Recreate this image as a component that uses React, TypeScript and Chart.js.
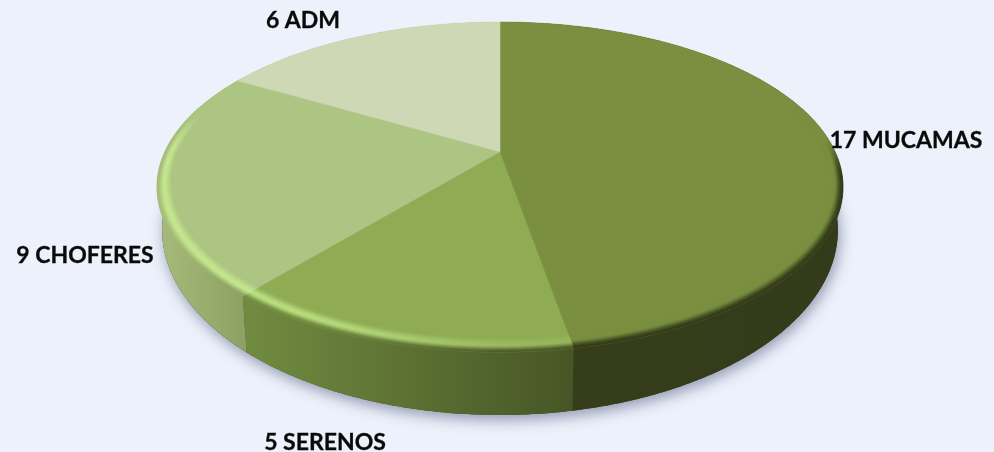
import React, { useEffect, useRef } from "react";
import { Chart, registerables } from "chart.js";

Chart.register(...registerables);

const categories = ["17 MUCAMAS", "5 SERENOS", "9 CHOFERES", "6 ADM"];
const sliceValues = [17, 5, 8, 6];
const faceColors = ["#7a8f40", "#8fac54", "#adc582", "#ced8b5"];
const labelAnchors: [number, number, string][] = [
  [906, 141, "center"],
  [325, 443, "center"],
  [85, 256, "center"],
  [303, 21, "center"],
];

const CX = 500, CY = 152, RX = 335.2, RY = 157.6, K = 0.212;
const BOTTOM_X = 0.985, BOTTOM_Y = 1.121, BOTTOM_SHIFT = 38.8;

function proj(a: number, s = 1, bottom = false): [number, number] {
  const v = Math.cos(a) * s, u = Math.sin(a) * s;
  const d = 1 - K * u;
  let x = (RX * v) / d, y = (RY * u) / d;
  if (bottom) { x *= BOTTOM_X; y = y * BOTTOM_Y + BOTTOM_SHIFT; }
  return [CX + x, CY + y];
}
const hex = (h: string) => [1, 3, 5].map((i) => parseInt(h.slice(i, i + 2), 16));
const mix = (a: number[], b: number[], t: number) => a.map((c, i) => c + (b[i] - c) * t);
const css = (c: number[]) => `rgb(${c.map(Math.round).join(",")})`;
const smooth = (a: number, b: number, x: number) => {
  const t = Math.min(1, Math.max(0, (x - a) / (b - a)));
  return t * t * (3 - 2 * t);
};
const wallStops: [number, number, string, string][] = [
  [570, 840, "#353d1b", "#333b1a"],
  [250, 570, "#708b40", "#475626"],
  [160, 250, "#a6bb7a", "#8b9f62"],
  [240, 500, "#9fb070", "#9fb070"],
];

const pie3d = {
  id: "pie3d",
  beforeDatasetsDraw(chart: any) {
    const ctx: CanvasRenderingContext2D = chart.ctx;
    const arcs = chart.getDatasetMeta(0).data;
    const step = Math.PI / 360;
    const path = (a0: number, a1: number, s: number, bottom: boolean, move: boolean) => {
      const n = Math.max(1, Math.ceil(Math.abs(a1 - a0) / step));
      for (let i = 0; i <= n; i++) {
        const p = proj(a0 + ((a1 - a0) * i) / n, s, bottom);
        if (i === 0 && move) ctx.moveTo(p[0], p[1]); else ctx.lineTo(p[0], p[1]);
      }
    };
    ctx.save();
    // soft cast shadow
    ctx.save();
    ctx.shadowColor = "rgba(60,70,105,0.5)";
    ctx.shadowBlur = 14;
    ctx.shadowOffsetX = 2;
    ctx.shadowOffsetY = 5;
    ctx.fillStyle = "#333b1a";
    ctx.beginPath();
    path(-Math.PI, Math.PI, 1, true, true);
    ctx.closePath();
    ctx.fill();
    ctx.restore();
    // walls
    arcs.forEach((arc: any, i: number) => {
      const [x0, x1, c0, c1] = wallStops[i];
      const g = ctx.createLinearGradient(x0, 0, x1, 0);
      g.addColorStop(0, c0);
      g.addColorStop(1, c1);
      ctx.fillStyle = g;
      ctx.beginPath();
      path(arc.startAngle, arc.endAngle, 1, false, true);
      path(arc.endAngle, arc.startAngle, 1, true, false);
      ctx.closePath();
      ctx.fill();
    });
    // faces
    arcs.forEach((arc: any) => {
      ctx.fillStyle = arc.options.backgroundColor;
      ctx.strokeStyle = arc.options.backgroundColor;
      ctx.lineWidth = 0.5;
      ctx.beginPath();
      ctx.moveTo(CX, CY);
      path(arc.startAngle, arc.endAngle, 1, false, false);
      ctx.closePath();
      ctx.fill();
      ctx.stroke();
    });
    // bevel along the front rim
    const rings = 14;
    const da = Math.PI / 240;
    arcs.forEach((arc: any, i: number) => {
      if (i === 3) return;
      const face = hex(faceColors[i]);
      const n = Math.ceil((arc.endAngle - arc.startAngle) / da);
      for (let j = 0; j < n; j++) {
        const a0 = arc.startAngle + ((arc.endAngle - arc.startAngle) * j) / n;
        const a1 = arc.startAngle + ((arc.endAngle - arc.startAngle) * (j + 1)) / n;
        const am = (a0 + a1) / 2;
        const u = Math.sin(am);
        if (u < -0.3) continue;
        const fade = i === 0 ? smooth(-0.1, 0.15, u) : smooth(-0.3, 0.0, u);
        const width = 0.04 + 0.02 * Math.abs(u);
        const xm = proj(am)[0];
        for (let r = 0; r < rings; r++) {
          const t0 = r / rings, t1 = (r + 1) / rings, tm = (t0 + t1) / 2;
          const s0 = 1 - width * (1 - t0), s1 = 1 - width * (1 - t1);
          let col: number[];
          if (i === 0) {
            col = mix(face, hex("#333b1a"), smooth(0.45, 0.95, tm));
          } else {
            const strength = i === 2 ? 1 : 1 - 0.78 * smooth(250, 570, xm);
            const peak = mix(face, hex(i === 2 ? "#c4e78f" : "#bce082"), strength);
            const wallC = i === 2
              ? mix(hex("#a6bb7a"), hex("#8b9f62"), smooth(160, 250, xm))
              : mix(hex("#708b40"), hex("#475626"), smooth(250, 570, xm));
            col = tm < 0.55
              ? mix(face, peak, smooth(0, 0.55, tm))
              : mix(peak, wallC, smooth(0.55, 1, tm));
          }
          col = mix(face, col, fade);
          const p = [proj(a0, s0), proj(a1, s0), proj(a1, s1), proj(a0, s1)];
          ctx.fillStyle = css(col);
          ctx.strokeStyle = css(col);
          ctx.lineWidth = 0.6;
          ctx.beginPath();
          ctx.moveTo(p[0][0], p[0][1]);
          for (let q = 1; q < 4; q++) ctx.lineTo(p[q][0], p[q][1]);
          ctx.closePath();
          ctx.fill();
          ctx.stroke();
        }
      }
    });
    // labels
    ctx.fillStyle = "#0a0a0a";
    ctx.strokeStyle = "#0a0a0a";
    ctx.lineWidth = 0.3;
    ctx.font = "700 23px Lato, 'Open Sans', sans-serif";
    ctx.textBaseline = "middle";
    categories.forEach((c, i) => {
      const [x, y, al] = labelAnchors[i];
      ctx.textAlign = al as CanvasTextAlign;
      ctx.fillText(c, x, y);
      ctx.strokeText(c, x, y);
    });
    ctx.restore();
    return false;
  },
};

export default function App() {
  const ref = useRef<HTMLCanvasElement>(null);
  useEffect(() => {
    document.body.style.margin = "0";
    document.body.style.background = "#edf1fb";
    const chart = new Chart(ref.current!, {
      type: "pie",
      data: {
        labels: categories,
        datasets: [{ data: sliceValues, backgroundColor: faceColors, borderWidth: 0 }],
      },
      options: {
        responsive: false,
        animation: false,
        plugins: { legend: { display: false }, tooltip: { enabled: false } },
      },
      plugins: [pie3d],
    } as any);
    return () => chart.destroy();
  }, []);
  return <canvas ref={ref} width={994} height={452} style={{ display: "block" }} />;
}
